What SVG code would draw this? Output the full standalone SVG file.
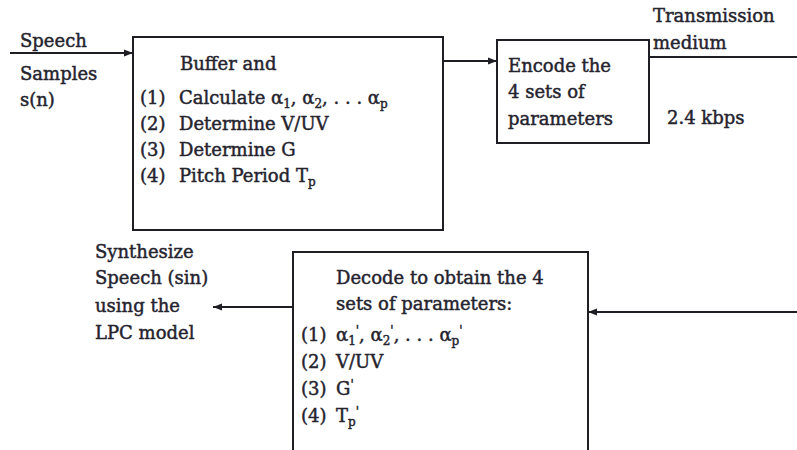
<svg xmlns="http://www.w3.org/2000/svg" width="797" height="450" viewBox="0 0 797 450">
<defs>
<marker id="ah" viewBox="0 0 10 10" refX="10" refY="5" markerWidth="9" markerHeight="9" markerUnits="userSpaceOnUse" orient="auto">
<path d="M0,1 L10,5 L0,9 z" fill="#1e1e24"/>
</marker>
<style>
text{font-family:"DejaVu Serif","Liberation Serif",serif;font-size:18px;fill:#25232e;stroke:#25232e;stroke-width:0.45px}
.box{fill:none;stroke:#1e1e24;stroke-width:2}
.ln{fill:none;stroke:#1e1e24;stroke-width:2}
.sub{font-size:12px}
</style>
</defs>
<rect width="797" height="450" fill="#ffffff"/>
<g id="connectors">
<line class="ln" x1="10" y1="53" x2="133" y2="53" marker-end="url(#ah)"/>
<line class="ln" x1="443" y1="61" x2="497" y2="61" marker-end="url(#ah)"/>
<line class="ln" x1="649" y1="57" x2="797" y2="57"/>
<line class="ln" x1="797" y1="312" x2="588" y2="312" marker-end="url(#ah)"/>
<line class="ln" x1="293" y1="307" x2="213" y2="307" marker-end="url(#ah)"/>
</g>
<g id="input-label">
<text x="20" y="47">Speech</text>
<text x="20" y="80">Samples</text>
<text x="20" y="106">s(n)</text>
</g>
<g id="buffer">
<rect class="box" x="133" y="37" width="310" height="193"/>
<text x="180" y="70">Buffer and</text>
<text x="140" y="104">(1)<tspan x="179">Calculate α</tspan><tspan class="sub" dy="4">1</tspan><tspan dy="-4">, α</tspan><tspan class="sub" dy="4">2</tspan><tspan dy="-4">, . . . α</tspan><tspan class="sub" dy="4">p</tspan></text>
<text x="140" y="130">(2)<tspan x="179">Determine V/UV</tspan></text>
<text x="140" y="156">(3)<tspan x="179">Determine G</tspan></text>
<text x="140" y="182">(4)<tspan x="179">Pitch Period T</tspan><tspan class="sub" dy="4">p</tspan></text>
</g>
<g id="encode">
<rect class="box" x="497" y="40" width="152" height="103"/>
<text x="508" y="72">Encode the</text>
<text x="508" y="98">4 sets of</text>
<text x="508" y="125">parameters</text>
</g>
<g id="medium-label">
<text x="653" y="22">Transmission</text>
<text x="653" y="49">medium</text>
<text x="667" y="124">2.4 kbps</text>
</g>
<g id="decode">
<rect class="box" x="293" y="252" width="295" height="210"/>
<text x="336" y="284">Decode to obtain the 4</text>
<text x="336" y="310">sets of parameters:</text>
<text x="301" y="341">(1)<tspan x="336">α</tspan><tspan class="sub" dy="4">1</tspan><tspan class="sub" dy="-10">'</tspan><tspan dy="6">, α</tspan><tspan class="sub" dy="4">2</tspan><tspan class="sub" dy="-10">'</tspan><tspan dy="6">, . . . α</tspan><tspan class="sub" dy="4">p</tspan><tspan class="sub" dy="-10">'</tspan></text>
<text x="301" y="368">(2)<tspan x="336">V/UV</tspan></text>
<text x="301" y="395">(3)<tspan x="336">G</tspan><tspan class="sub" dy="-6">'</tspan></text>
<text x="301" y="422">(4)<tspan x="336">T</tspan><tspan class="sub" dy="4">p</tspan><tspan class="sub" dy="-10">'</tspan></text>
</g>
<g id="synth-label">
<text x="95" y="258">Synthesize</text>
<text x="95" y="284">Speech (sin)</text>
<text x="95" y="312">using the</text>
<text x="95" y="339">LPC model</text>
</g>
</svg>
